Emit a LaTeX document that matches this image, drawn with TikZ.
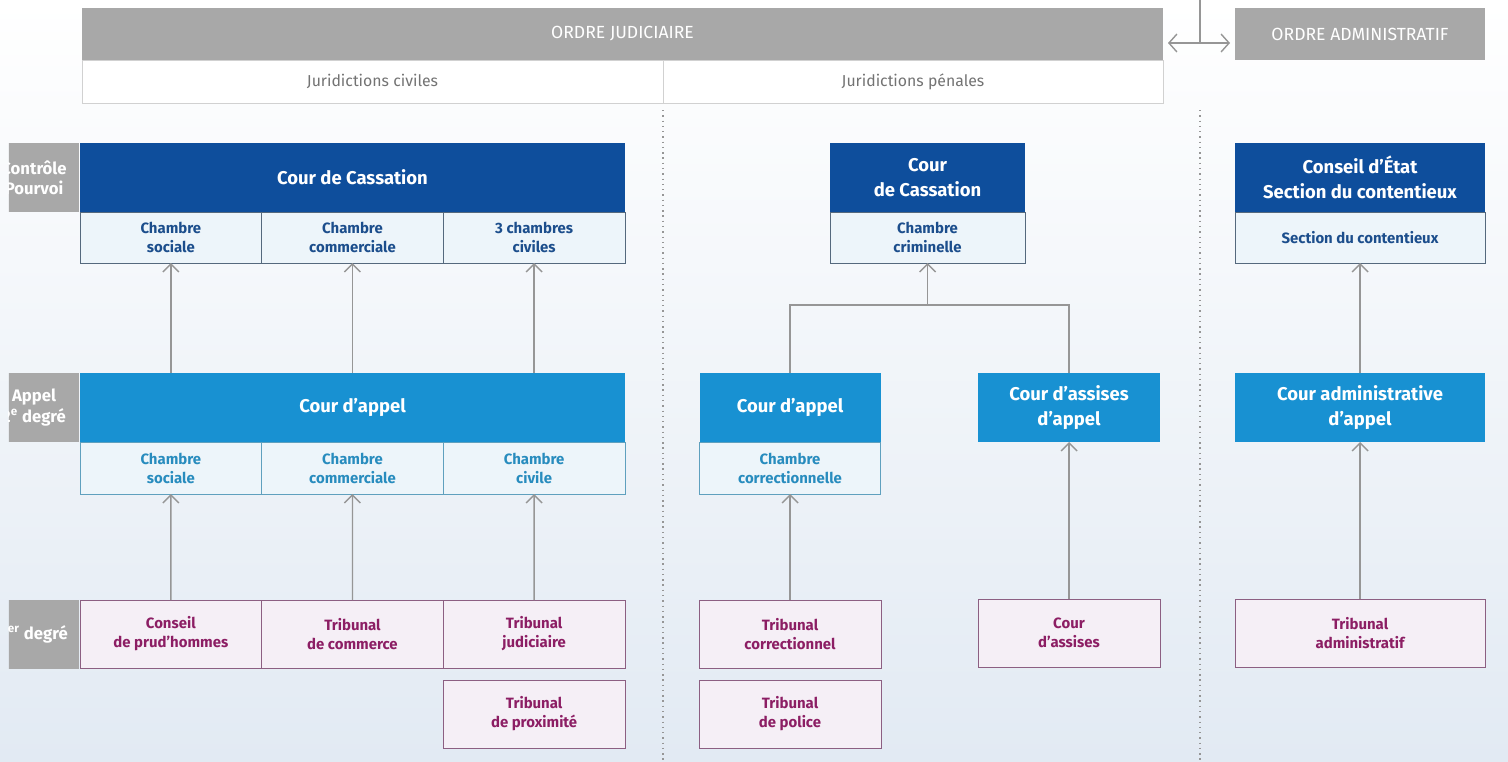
\documentclass[tikz,border=0pt]{standalone}
\usepackage{fontspec}
\setmainfont{Fira Sans}
\usetikzlibrary{positioning,arrows.meta}

\definecolor{bgblue}{RGB}{226,234,243}
\definecolor{bargrey}{RGB}{168,168,168}
\definecolor{dkblue}{RGB}{14,78,156}
\definecolor{mdblue}{RGB}{24,145,210}
\definecolor{cellbg}{RGB}{237,245,250}
\definecolor{dkline}{RGB}{85,105,125}
\definecolor{mdline}{RGB}{95,160,190}
\definecolor{dktext}{RGB}{28,78,140}
\definecolor{mdtext}{RGB}{40,140,190}
\definecolor{purtext}{RGB}{140,30,100}
\definecolor{purline}{RGB}{140,95,130}
\definecolor{purbg}{RGB}{245,239,246}
\definecolor{linkgrey}{RGB}{150,150,150}

\tikzset{
  courtbox/.style={inner sep=1pt, outer sep=0pt, align=center},
  ordre/.style={courtbox, fill=bargrey, text=white, minimum height=1.04cm,
    font=\fontsize{10}{12}\selectfont},
  jur/.style={courtbox, fill=white, draw=black!18, text=black!55, minimum height=0.86cm,
    font=\fontsize{9}{11}\selectfont},
  side/.style={courtbox, fill=bargrey, text=white, minimum width=1.8cm, minimum height=1.38cm,
    font=\fontsize{9.5}{11.5}\selectfont\bfseries},
  cass/.style={courtbox, fill=dkblue, text=white, minimum height=1.38cm,
    font=\fontsize{10.5}{14}\selectfont\bfseries},
  appel/.style={cass, fill=mdblue},
  chdk/.style={courtbox, fill=cellbg, draw=dkline, text=dktext, minimum width=3.633cm,
    minimum height=1.02cm, font=\fontsize{8.5}{10.8}\selectfont\bfseries},
  chmd/.style={chdk, draw=mdline, text=mdtext, minimum height=1.04cm},
  trib/.style={courtbox, fill=purbg, draw=purline, text=purtext, minimum width=3.633cm,
    minimum height=1.36cm, font=\fontsize{8.5}{10.8}\selectfont\bfseries},
  link/.style={linkgrey, line width=0.8pt},
  recours/.style={link, -{Straight Barb[length=1.6mm,width=3.2mm]}},
  dbl/.style={link, {Straight Barb[length=1.6mm,width=3.6mm]}-{Straight Barb[length=1.6mm,width=3.6mm]}},
  sep/.style={linkgrey, line width=0.9pt, dash pattern=on 0.8pt off 2.2pt}
}

\begin{document}
\begin{tikzpicture}[x=1cm,y=-1cm]
\useasboundingbox (0,0) rectangle (30.16,15.24);
\shade[top color=white, middle color=bgblue!75!white, bottom color=bgblue] (0,0) rectangle (30.16,15.24);

% en-tete
\node[ordre, minimum width=21.62cm] (ordj) at (12.45,0.68) {ORDRE JUDICIAIRE};
\node[ordre, minimum width=5cm] (ordadm) at (27.2,0.68) {ORDRE ADMINISTRATIF};
\node[jur, minimum width=11.62cm, anchor=north west] (jciv) at (ordj.south west) {Juridictions civiles};
\node[jur, minimum width=10cm, anchor=north west] (jpen) at (jciv.north east) {Juridictions pénales};
\coordinate (tee) at (24,0);
\draw[link] (tee) -- ++(0,0.86);
\draw[dbl] ([xshift=0.1cm,yshift=-0.18cm]ordj.east) -- ([xshift=-0.1cm,yshift=-0.18cm]ordadm.west);
\draw[sep] (13.26,2.2) -- (13.26,15.24);
\draw[sep] (24,2.2) -- (24,15.24);

% degres
\begin{scope}
\clip (0.18,0) rectangle (1.6,15.24);
\node[side] (lctrl) at (0.68,3.55) {Contrôle\\Pourvoi};
\node[side] (lapp) at (0.68,8.15) {Appel\\2\textsuperscript{e} degré};
\node[side] (lfirst) at (0.68,12.68) {1\textsuperscript{er} degré};
\end{scope}

% juridictions civiles
\node[cass, minimum width=10.9cm] (cc) at (7.05,3.55) {Cour de Cassation};
\node[chdk, anchor=north west] (cc1) at (cc.south west) {Chambre\\sociale};
\node[chdk, right=0pt of cc1] (cc2) {Chambre\\commerciale};
\node[chdk, right=0pt of cc2] (cc3) {3 chambres\\civiles};

\node[appel, minimum width=10.9cm] (ca) at (7.05,8.15) {Cour d'appel};
\node[chmd, anchor=north west] (ca1) at (ca.south west) {Chambre\\sociale};
\node[chmd, right=0pt of ca1] (ca2) {Chambre\\commerciale};
\node[chmd, right=0pt of ca2] (ca3) {Chambre\\civile};

\node[trib, anchor=north west] (fd1) at (1.6,12) {Conseil\\de prud'hommes};
\node[trib, right=0pt of fd1] (fd2) {Tribunal\\de commerce};
\node[trib, right=0pt of fd2] (fd3) {Tribunal\\judiciaire};
\node[trib, below=0.24cm of fd3] (fd4) {Tribunal\\de proximité};

\foreach \i in {1,2,3} {
  \draw[recours] (fd\i.north) -- (ca\i.south);
  \draw[recours] (ca.north -| cc\i) -- (cc\i.south);
}

% juridictions penales
\node[cass, minimum width=3.9cm] (pc) at (18.55,3.55) {Cour\\de Cassation};
\node[chdk, minimum width=3.9cm, anchor=north] (pc1) at (pc.south) {Chambre\\criminelle};
\node[appel, minimum width=3.62cm] (pa) at (15.8,8.15) {Cour d'appel};
\node[chmd, minimum width=3.62cm, anchor=north] (pa1) at (pa.south) {Chambre\\correctionnelle};
\node[appel, minimum width=3.64cm] (paa) at (21.38,8.15) {Cour d'assises\\d'appel};
\node[trib, minimum width=3.64cm] (ptc) at (15.8,12.68) {Tribunal\\correctionnel};
\node[trib, minimum width=3.64cm, below=0.24cm of ptc] (ptp) {Tribunal\\de police};
\node[trib, minimum width=3.64cm] (pas) at (21.38,12.66) {Cour\\d'assises};

\coordinate (fork) at ([yshift=-0.84cm]pc1.south);
\draw[link] (pa.north) |- (fork) -| (paa.north);
\draw[recours] (fork) -- (pc1.south);
\draw[recours] (ptc.north) -- (pa1.south);
\draw[recours] (pas.north) -- (paa.south);

% ordre administratif
\node[cass, minimum width=5cm] (ce) at (27.2,3.55) {Conseil d'État\\Section du contentieux};
\node[chdk, minimum width=5cm, anchor=north] (ce1) at (ce.south) {Section du contentieux};
\node[appel, minimum width=5cm] (cadm) at (27.2,8.15) {Cour administrative\\d'appel};
\node[trib, minimum width=5cm] (tadm) at (27.2,12.66) {Tribunal\\administratif};
\draw[recours] (tadm.north) -- (cadm.south);
\draw[recours] (cadm.north) -- (ce1.south);

\end{tikzpicture}
\end{document}
